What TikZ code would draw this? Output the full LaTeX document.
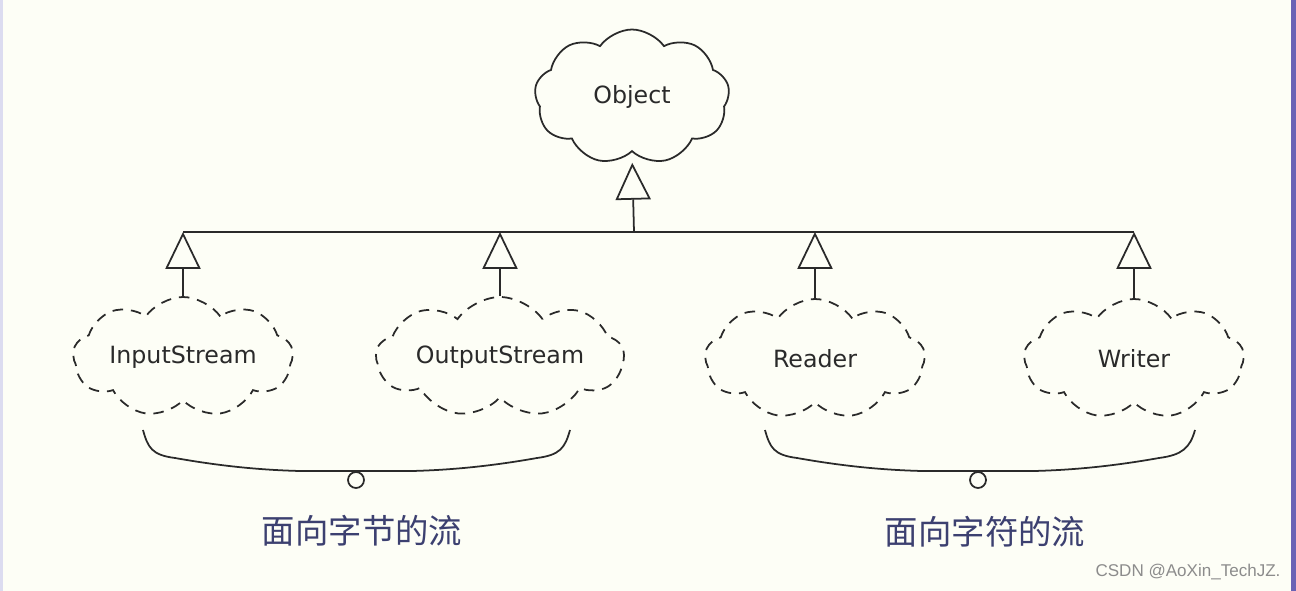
\documentclass[tikz,border=0pt]{standalone}
\usepackage{fontspec}
\setmainfont{DejaVu Sans}
\newfontfamily\cjk{Noto Sans CJK SC}
\newfontfamily\wmfont{Liberation Sans}
\usepackage{xcolor}
\usepackage{tikz}
\usetikzlibrary{arrows.meta,positioning,shapes.symbols}
\definecolor{paperx}{HTML}{FDFEF6}
\definecolor{inkx}{HTML}{2A2A2A}
\definecolor{bluex}{HTML}{3C4070}
\definecolor{edgex}{HTML}{6B62B5}
\definecolor{lavx}{HTML}{DCDCF0}
\definecolor{markx}{HTML}{8C8C8C}
\tikzset{
  gen/.style={-{Triangle[open,length=21pt,width=20pt]},line width=1pt,inkx},
  objcloud/.style={cloud,cloud puffs=9,cloud puff arc=110,cloud ignores aspect,draw=inkx,line width=1pt,minimum width=3.9cm,minimum height=2.7cm,font=\fontsize{13.5}{16}\selectfont,text=inkx},
  kidcloud/.style={objcloud,dash pattern=on 6pt off 4.5pt,minimum width=4.4cm,minimum height=2.4cm},
  brc/.style={line width=1pt,inkx},
  grouplabel/.style={font=\cjk\fontsize{19}{22}\selectfont,text=bluex}
}
\begin{document}
\begin{tikzpicture}[x=0.02cm,y=-0.02cm]
\fill[paperx] (0,0) rectangle (1296,591);
\fill[lavx] (0,0) rectangle (3,591);
\fill[edgex] (1291,0) rectangle (1296,591);
\useasboundingbox (0,0) rectangle (1296,591);
\node[objcloud] (obj) at (632,97) {Object};
\coordinate (hub) at (634,232);
\node[kidcloud] (in) at (183,357) {InputStream};
\node[kidcloud] (out) at (500,357) {OutputStream};
\node[kidcloud] (rd) at (815,359) {Reader};
\node[kidcloud] (wr) at (1134,359) {Writer};
\coordinate (jin) at (in.north |- hub);
\coordinate (jwr) at (wr.north |- hub);
\draw[brc] (jin) -- (jwr);
\draw[gen,shorten >=6pt] (hub) -- (obj.south);
\foreach \k in {in,out,rd,wr}
  \draw[gen] (\k.north) -- (\k.north |- hub);
\draw[brc] (143,430) .. controls (148,448) and (152,455) .. (175,458) .. controls (220,466) and (260,470) .. (300,471) -- (412,471) .. controls (452,470) and (492,466) .. (537,458) .. controls (560,455) and (565,448) .. (570,430);
\draw[brc] (356,480) circle (8);
\draw[brc] (765,430) .. controls (770,448) and (774,455) .. (797,458) .. controls (842,466) and (882,470) .. (922,471) -- (1034,471) .. controls (1074,470) and (1114,466) .. (1159,458) .. controls (1182,455) and (1190,448) .. (1195,430);
\draw[brc] (978,480) circle (8);
\node[grouplabel] (bytes) at (362,531) {面向字节的流};
\node[grouplabel] (chars) at (985,532) {面向字符的流};
\node[font=\wmfont\fontsize{9.7}{12}\selectfont,text=markx] (mark) at (1188,572) {CSDN @AoXin\_TechJZ.};
\end{tikzpicture}
\end{document}
